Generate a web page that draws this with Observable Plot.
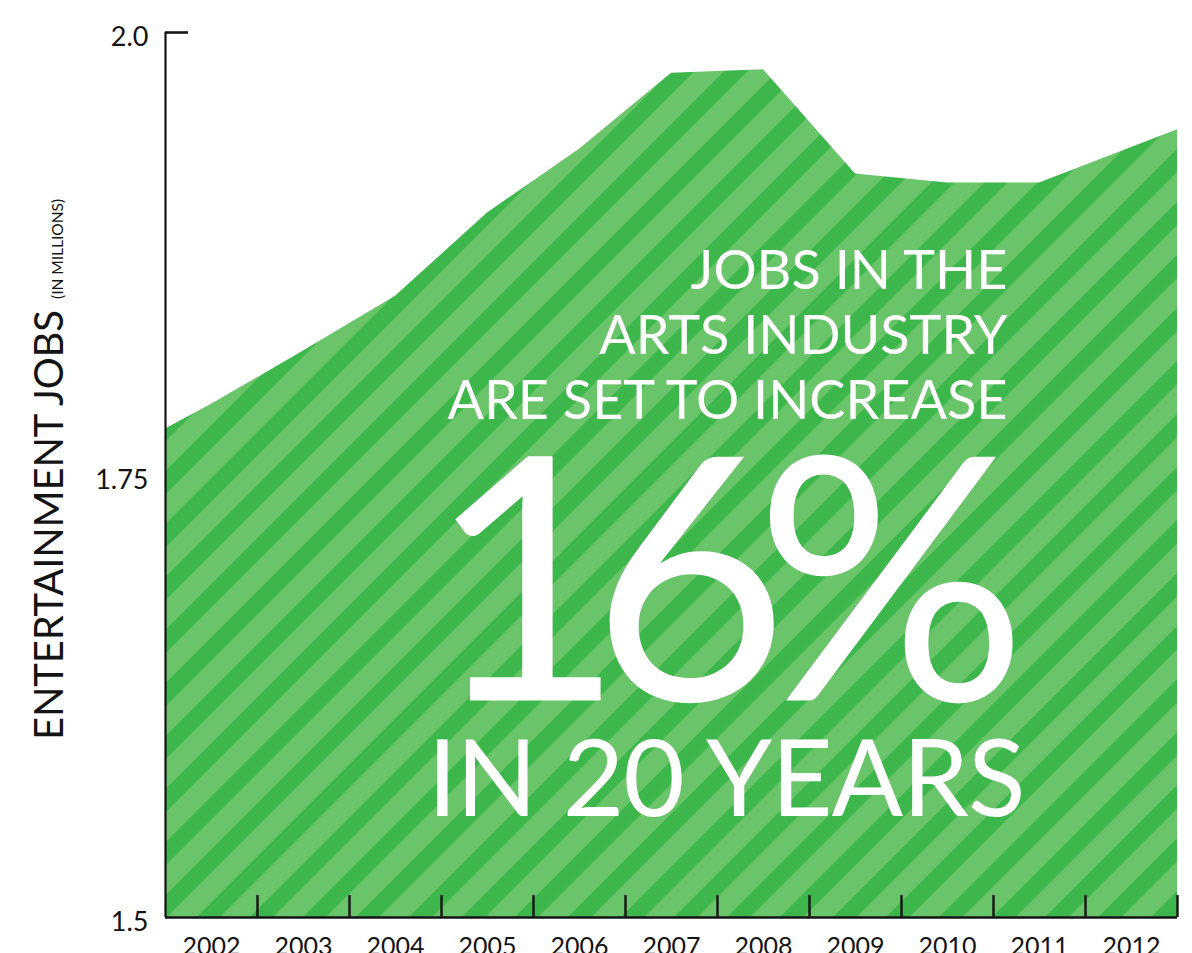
<!DOCTYPE html>
<html>
<head>
<meta charset="utf-8">
<script src="https://cdn.jsdelivr.net/npm/d3@7"></script>
<script src="https://cdn.jsdelivr.net/npm/@observablehq/plot@0.6"></script>
<style>
  body { margin: 0; background: #fff; }
  #chart svg { display: block; }
</style>
</head>
<body>
<div id="chart"></div>
<script>
// ---- data ----
const years = [2002, 2003, 2004, 2005, 2006, 2007, 2008, 2009, 2010, 2011, 2012];
const jobs  = [1.790, 1.820, 1.851, 1.898, 1.934, 1.977, 1.979, 1.920, 1.915, 1.915, 1.935];
const edgeJobs = [1.776, 1.945];          // where the area meets the left / right edges
const yTicks = [1.5, 1.75, 2.0];
const yTickLabels = ["1.5", "1.75", "2.0"];
const headline = ["JOBS IN THE", "ARTS INDUSTRY", "ARE SET TO INCREASE"];
const bigNumber = "16%";
const tagline = "IN 20 YEARS";
const yTitle = "ENTERTAINMENT JOBS";
const ySubtitle = "(IN MILLIONS)";

// ---- derived tables ----
const xStart = years[0] - 0.5, xEnd = years[years.length - 1] + 0.5;
const areaData = [
  {year: xStart, jobs: edgeJobs[0]},
  ...years.map((y, i) => ({year: y, jobs: jobs[i]})),
  {year: xEnd, jobs: edgeJobs[1]}
];
const boundaries = years.map(y => y + 0.5);

const ink = "#141414";
const darkGreen = "#3db64b";
const lightGreen = "#6ac46a";

const svg = Plot.plot({
  width: 1192,
  height: 953,
  marginLeft: 165,
  marginRight: 15,
  marginTop: 32,
  marginBottom: 36,
  style: {fontFamily: "Lato, 'Open Sans', sans-serif", background: "#fff", color: ink},
  x: {domain: [xStart, xEnd], label: null},
  y: {domain: [yTicks[0], yTicks[yTicks.length - 1]], label: null},
  marks: [
    Plot.areaY(areaData, {x: "year", y1: yTicks[0], y2: "jobs", fill: "url(#stripes)"}),
    // white annotation
    Plot.text([headline.join("\n")], {
      text: d => d, frameAnchor: "top-right", textAnchor: "end", lineAnchor: "bottom",
      dx: -170, dy: 386, fontSize: 54, lineHeight: 65 / 54, fill: "white"
    }),
    Plot.text([bigNumber], {
      text: d => d, frameAnchor: "top-right", textAnchor: "end", lineAnchor: "bottom",
      dx: -150, dy: 668, fontSize: 340, fill: "white"
    }),
    Plot.text([tagline], {
      text: d => d, frameAnchor: "top-right", textAnchor: "end", lineAnchor: "bottom",
      dx: -152, dy: 783, fontSize: 106, fill: "white"
    }),
    // axes
    Plot.ruleX([xStart], {stroke: ink, strokeWidth: 2.2}),
    Plot.ruleY([yTicks[0]], {stroke: ink, strokeWidth: 2.6}),
    Plot.axisY([yTicks[yTicks.length - 1]], {tickSize: 23, dx: 23, tickFormat: () => "", stroke: ink, strokeWidth: 2.6, label: null}),
    Plot.axisY(yTicks, {tickSize: 0, tickPadding: 17, dy: 5, fontSize: 27, fill: ink,
      tickFormat: d => yTickLabels[yTicks.indexOf(d)], label: null}),
    Plot.axisX(boundaries, {tickSize: 22, dy: -22, tickFormat: () => "", stroke: ink, strokeWidth: 2.4, label: null}),
    Plot.axisX(years, {tickSize: 0, tickPadding: 20, fontSize: 25, fill: ink, tickFormat: d => String(d), label: null}),
    // y-axis title
    Plot.text([yTitle], {
      text: d => d, frameAnchor: "left", rotate: -90, textAnchor: "start", lineAnchor: "bottom",
      dx: -103, dy: 265, fontSize: 40, fill: ink
    }),
    Plot.text([ySubtitle], {
      text: d => d, frameAnchor: "left", rotate: -90, textAnchor: "start", lineAnchor: "bottom",
      dx: -103, dy: -176, fontSize: 15.5, fill: ink
    })
  ]
});

// fit a few display texts to the widths they have in the reference
const fitWidths = new Map([[bigNumber, 600], [tagline, 598], [yTitle, 430]]);
d3.select(svg).selectAll("text").each(function () {
  const w = fitWidths.get(this.textContent);
  if (w) { this.setAttribute("textLength", w); this.setAttribute("lengthAdjust", "spacing"); }
});

// striped fill pattern
const defs = d3.select(svg).insert("defs", ":first-child");
const period = 37.5;
const pat = defs.append("pattern")
  .attr("id", "stripes")
  .attr("patternUnits", "userSpaceOnUse")
  .attr("width", period).attr("height", period)
  .attr("patternTransform", "rotate(45)");
pat.append("rect").attr("width", period).attr("height", period).attr("fill", lightGreen);
pat.append("rect").attr("width", 16.5).attr("height", period).attr("fill", darkGreen);

document.getElementById("chart").appendChild(svg);
</script>
</body>
</html>
